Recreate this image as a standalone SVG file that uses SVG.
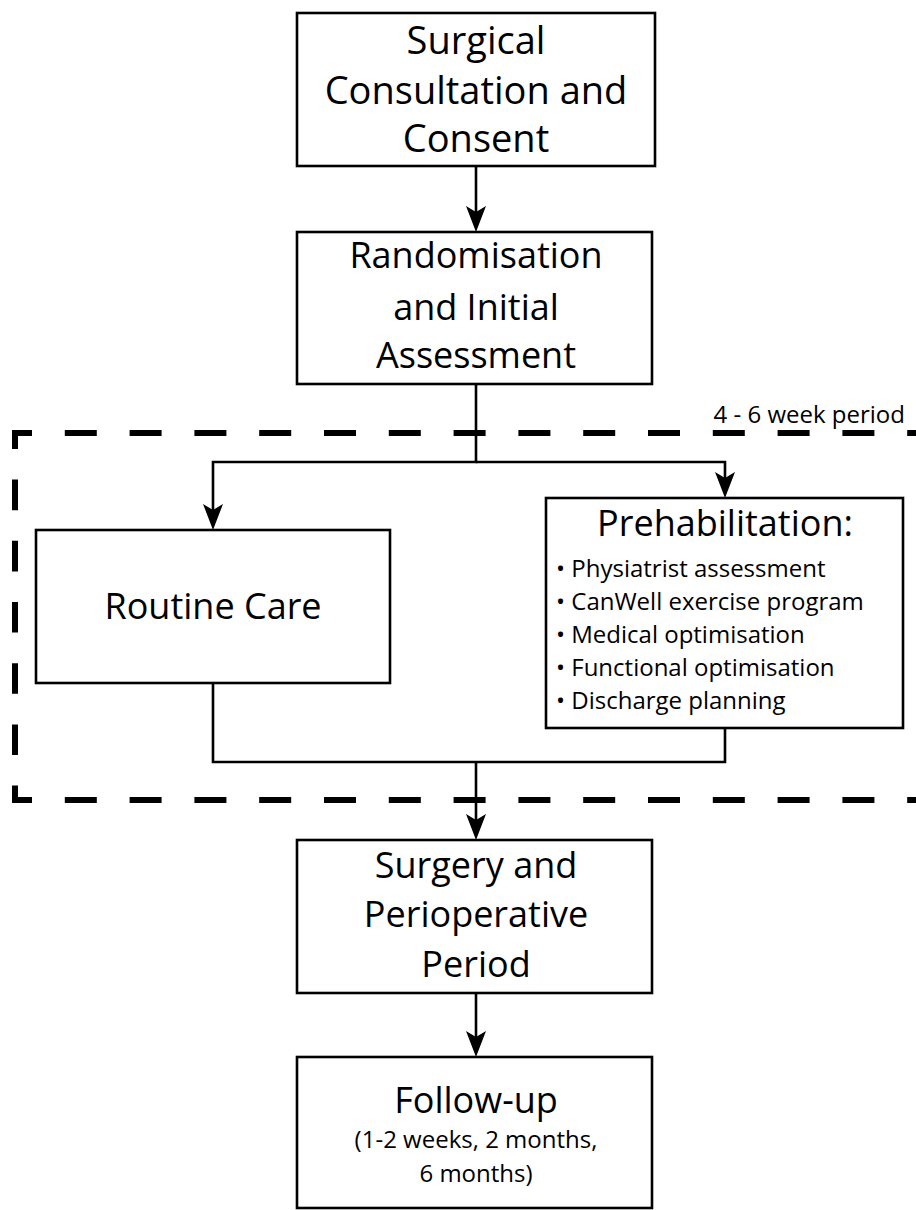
<svg xmlns="http://www.w3.org/2000/svg" width="916" height="1210" viewBox="0 0 916 1210">
<style>
.box{fill:#fff;stroke:#000;stroke-width:2.6}
.t{font-family:"Open Sans","Noto Sans","Liberation Sans",sans-serif;fill:#000;text-anchor:middle}
.big{font-size:36px}
.b1{font-size:38px}
.small{font-size:24px}
.list{font-family:"Open Sans","Noto Sans","Liberation Sans",sans-serif;font-size:24px;fill:#000}
.conn{fill:none;stroke:#000;stroke-width:2.6}
.dash{fill:none;stroke:#000;stroke-width:6}
</style>
<defs>
<marker id="arr" viewBox="0 -11 27 22" markerWidth="27" markerHeight="22" refX="6" refY="0" orient="auto" markerUnits="userSpaceOnUse">
<path d="M0,-10 L26,0 L0,10 L6,0 Z" fill="#000"/>
</marker>
</defs>
<g id="period">
<line class="dash" x1="12" y1="433" x2="930" y2="433" stroke-dasharray="32 32.8" stroke-dashoffset="12"/>
<line class="dash" x1="15" y1="430" x2="15" y2="803" stroke-dasharray="30.6 30.6" stroke-dashoffset="11.6"/>
<line class="dash" x1="12" y1="800" x2="930" y2="800" stroke-dasharray="32 32.8" stroke-dashoffset="12"/>
<text class="t small" x="905" y="423" style="text-anchor:end">4 - 6 week period</text>
</g>
<g id="connectors">
<line class="conn" x1="476" y1="166" x2="476" y2="212" marker-end="url(#arr)"/>
<polyline class="conn" points="476,384 476,462 213,462 213,510" marker-end="url(#arr)"/>
<polyline class="conn" points="476,462 725,462 725,478" marker-end="url(#arr)"/>
<polyline class="conn" points="213,683 213,762 725,762 725,728"/>
<line class="conn" x1="476" y1="762" x2="476" y2="820" marker-end="url(#arr)"/>
<line class="conn" x1="476" y1="993" x2="476" y2="1037" marker-end="url(#arr)"/>
</g>
<g id="consult">
<rect class="box" x="297" y="13" width="358" height="153"/>
<text class="t b1" x="476" y="54">Surgical</text>
<text class="t b1" x="476" y="104">Consultation and</text>
<text class="t b1" x="476" y="152">Consent</text>
</g>
<g id="random">
<rect class="box" x="297" y="232" width="355" height="152"/>
<text class="t big" x="476" y="268">Randomisation</text>
<text class="t big" x="476" y="320">and Initial</text>
<text class="t big" x="476" y="368">Assessment</text>
</g>
<g id="routine">
<rect class="box" x="36" y="530" width="354" height="153"/>
<text class="t big" x="213" y="619">Routine Care</text>
</g>
<g id="prehab">
<rect class="box" x="546" y="498" width="357" height="230"/>
<text class="t big" x="725" y="536">Prehabilitation:</text>
<text class="list" x="556" y="577">• Physiatrist assessment</text>
<text class="list" x="556" y="610">• CanWell exercise program</text>
<text class="list" x="556" y="643">• Medical optimisation</text>
<text class="list" x="556" y="676">• Functional optimisation</text>
<text class="list" x="556" y="709">• Discharge planning</text>
</g>
<g id="surgery">
<rect class="box" x="297" y="840" width="355" height="153"/>
<text class="t big" x="476" y="878">Surgery and</text>
<text class="t big" x="476" y="927">Perioperative</text>
<text class="t big" x="476" y="977">Period</text>
</g>
<g id="followup">
<rect class="box" x="297" y="1057" width="355" height="151"/>
<text class="t big" x="476" y="1113">Follow-up</text>
<text class="t small" x="476" y="1148">(1-2 weeks, 2 months,</text>
<text class="t small" x="476" y="1182">6 months)</text>
</g>
</svg>
